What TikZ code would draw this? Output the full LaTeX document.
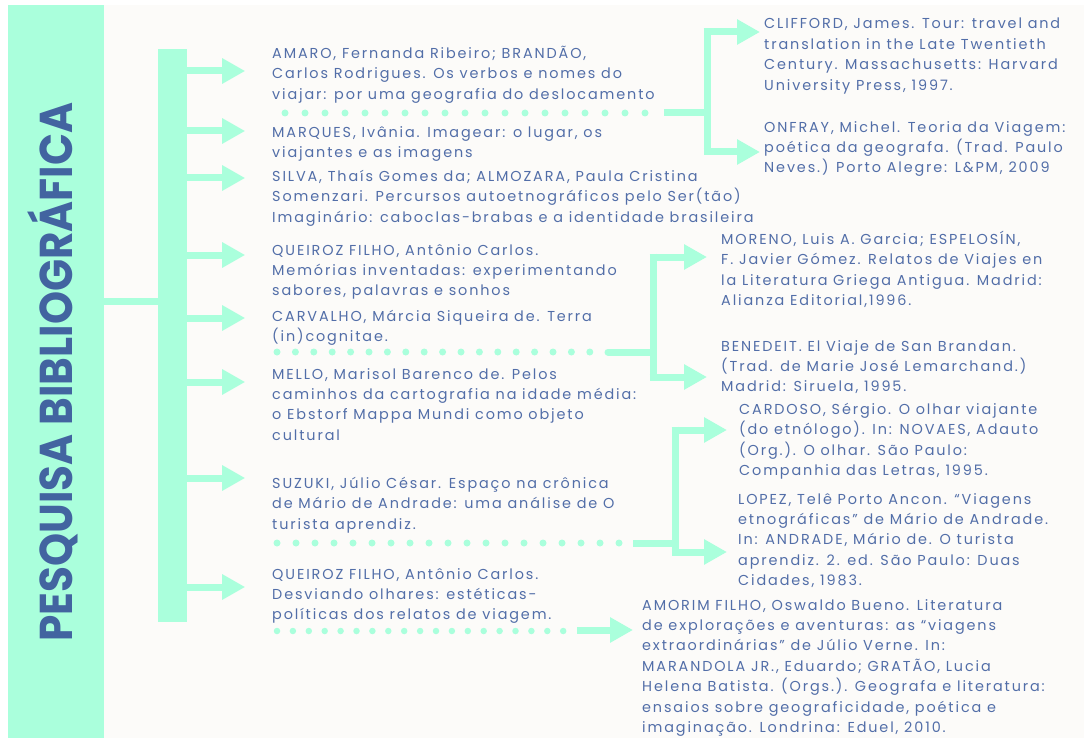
\documentclass[tikz,border=0pt]{standalone}
\usepackage{fontspec}
\setmainfont{Poppins}[LetterSpace=13]
\usepackage{graphicx}
\usetikzlibrary{arrows.meta,positioning}
\definecolor{mint}{RGB}{170,255,220}
\definecolor{inkblue}{RGB}{82,110,168}
\definecolor{titleblue}{RGB}{66,100,160}
\definecolor{paper}{RGB}{252,251,249}
\newcommand{\reffont}{\fontsize{14.4}{20.4}\selectfont}

\begin{document}
\begin{tikzpicture}[
    x=1pt,y=-1pt,
    ref/.style={anchor=north west,inner sep=0pt,align=left,text=inkblue,
      font=\reffont,execute at begin node={\rule{0pt}{14pt}}},
    bar/.style={draw=mint,line width=7pt},
    branch/.style={-{Triangle[length=23pt,width=24pt]},draw=mint,line width=7pt},
    dotline/.style={draw=mint,line width=7pt,line cap=round}
  ]
    \useasboundingbox (0,0) rectangle (1084,738);
    \fill[white] (0,0) rectangle (1084,738);
    \fill[paper] (8,5) rectangle (1084,738);

    % title band and trunk
    \node[fill=mint,inner sep=0pt,minimum width=96pt,minimum height=733pt] (band) at (56,371.5) {};
    \node[rotate=90,text=titleblue,font=\fontsize{46}{46}\selectfont\addfontfeatures{LetterSpace=0}\bfseries] (title) at (53,372)
      {\scalebox{0.915}[1]{PESQUISA BIBLIOGRÁFICA}};
    \node[fill=mint,inner sep=0pt,minimum width=29pt,minimum height=573pt] (trunk) at (172.5,335.5) {};
    \coordinate (hub) at (158,301);
    \draw[bar] (band.east |- hub) -- (hub);
    \foreach \y in {71,131,178,255,318,382,478,587}
      \draw[branch] (trunk.east |- 0,\y) -- ++(58,0);

    % left column
    \node[ref] (amaro) at (272,46) {AMARO, Fernanda Ribeiro; BRANDÃO,\\
      Carlos Rodrigues. Os verbos e nomes do\\
      viajar: por uma geografia do deslocamento};
    \node[ref] (marques) at (272,126) {MARQUES, Ivânia. Imagear: o lugar, os\\
      viajantes e as imagens};
    \node[ref] (silva) at (272,170) {SILVA, Thaís Gomes da; ALMOZARA, Paula Cristina\\
      Somenzari. Percursos autoetnográficos pelo Ser(tão)\\
      Imaginário: caboclas-brabas e a identidade brasileira};
    \node[ref] (queiroz) at (272,244) {QUEIROZ FILHO, Antônio Carlos.\\
      Memórias inventadas: experimentando\\
      sabores, palavras e sonhos};
    \node[ref] (carvalho) at (272,310) {CARVALHO, Márcia Siqueira de. Terra\\
      (in)cognitae.};
    \node[ref] (mello) at (272,368) {MELLO, Marisol Barenco de. Pelos\\
      caminhos da cartografia na idade média:\\
      o Ebstorf Mappa Mundi como objeto\\
      cultural};
    \node[ref] (suzuki) at (272,477) {SUZUKI, Júlio César. Espaço na crônica\\
      de Mário de Andrade: uma análise de O\\
      turista aprendiz.};
    \node[ref] (queirozb) at (272,568) {QUEIROZ FILHO, Antônio Carlos.\\
      Desviando olhares: estéticas-\\
      políticas dos relatos de viagem.};

    % right column
    \node[ref] (clifford) at (764,18) {CLIFFORD, James. Tour: travel and\\
      translation in the Late Twentieth\\
      Century. Massachusetts: Harvard\\
      University Press, 1997.};
    \node[ref] (onfray) at (764,121) {ONFRAY, Michel. Teoria da Viagem:\\
      poética da geografa. (Trad. Paulo\\
      Neves.) Porto Alegre: L\&PM, 2009};
    \node[ref] (moreno) at (721,231) {MORENO, Luis A. Garcia; ESPELOSÍN,\\
      F. Javier Gómez. Relatos de Viajes en\\
      la Literatura Griega Antigua. Madrid:\\
      Alianza Editorial,1996.};
    \node[ref] (benedeit) at (721,340) {BENEDEIT. El Viaje de San Brandan.\\
      (Trad. de Marie José Lemarchand.)\\
      Madrid: Siruela, 1995.};
    \node[ref] (cardoso) at (739,403) {CARDOSO, Sérgio. O olhar viajante\\
      (do etnólogo). In: NOVAES, Adauto\\
      (Org.). O olhar. São Paulo:\\
      Companhia das Letras, 1995.};
    \node[ref] (lopez) at (738,493) {LOPEZ, Telê Porto Ancon. “Viagens\\
      etnográficas” de Mário de Andrade.\\
      In: ANDRADE, Mário de. O turista\\
      aprendiz. 2. ed. São Paulo: Duas\\
      Cidades, 1983.};
    \node[ref] (amorim) at (642,599) {AMORIM FILHO, Oswaldo Bueno. Literatura\\
      de explorações e aventuras: as “viagens\\
      extraordinárias” de Júlio Verne. In:\\
      MARANDOLA JR., Eduardo; GRATÃO, Lucia\\
      Helena Batista. (Orgs.). Geografa e literatura:\\
      ensaios sobre geograficidade, poética e\\
      imaginação. Londrina: Eduel, 2010.};

    % group 1
    \coordinate (j1) at (707,113);
    \draw[dotline,dash pattern=on 0pt off 20pt] (285,113) -- (645.1,113);
    \draw[bar] (664,113) -- (j1);
    \draw[bar] (707,28.5) -- (707,155.5);
    \draw[branch] (703.5,32) -- ([xshift=-4pt]clifford.west |- 0,32);
    \draw[branch] (703.5,152) -- ([xshift=-4pt]onfray.west |- 0,152);

    % group 2
    \coordinate (j2) at (653,352);
    \draw[dotline,dash pattern=on 0pt off 18.4pt] (277,352) -- (590.1,352);
    \draw[bar,line cap=round] (608,352) -- (j2);
    \draw[bar] (653,253.5) -- (653,380.5);
    \draw[branch] (649.5,257) -- ([xshift=-14pt]moreno.west |- 0,257);
    \draw[branch] (649.5,377) -- ([xshift=-14pt]benedeit.west |- 0,377);

    % group 3
    \coordinate (j3) at (675,543);
    \draw[dotline,dash pattern=on 0pt off 19pt] (277,543) -- (619.1,543);
    \draw[bar] (633,543) -- (j3);
    \draw[bar] (675,426.5) -- (675,555.5);
    \draw[branch] (671.5,430) -- ([xshift=-12pt]cardoso.west |- 0,430);
    \draw[branch] (671.5,552) -- ([xshift=-11pt]lopez.west |- 0,552);

    % group 4
    \draw[dotline,line width=6.5pt,dash pattern=on 0pt off 15.9pt] (277,631) -- (563.3,631);
    \draw[branch] (577,630) -- ([xshift=-9pt]amorim.west |- 0,630);
\end{tikzpicture}
\end{document}
